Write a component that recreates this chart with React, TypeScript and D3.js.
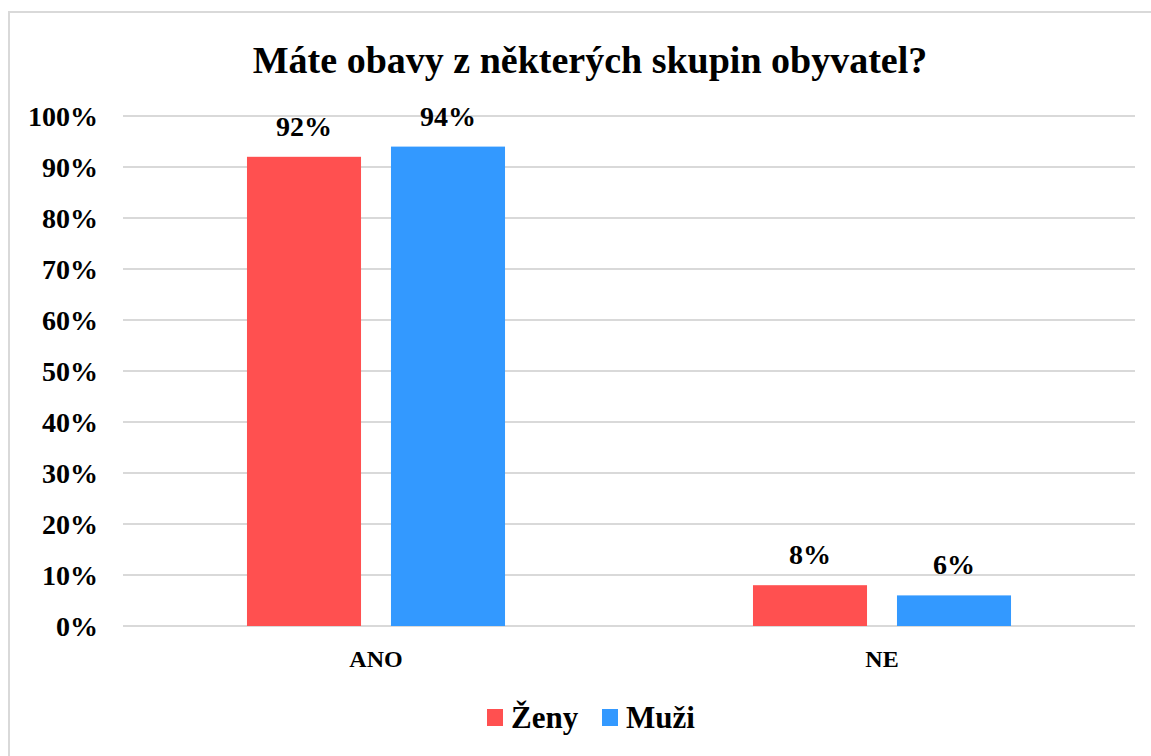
import React from "react";
import * as d3 from "d3";

const title = "Máte obavy z některých skupin obyvatel?";
const categories = ["ANO", "NE"];
const seriesNames = ["Ženy", "Muži"];
const zeny = [0.92, 0.08];
const muzi = [0.94, 0.06];
const yTicks = [0, 0.1, 0.2, 0.3, 0.4, 0.5, 0.6, 0.7, 0.8, 0.9, 1.0];
const colors = ["#FF5050", "#3399FF"];

const W = 1151;
const H = 756;
const font = "'Liberation Serif', 'Times New Roman', serif";

export default function App() {
  const values = [zeny, muzi];
  const x0 = d3.scaleBand().domain(categories).range([123, 1135]);
  const x1 = d3
    .scaleBand()
    .domain(seriesNames)
    .range([0, x0.bandwidth()])
    .paddingInner(0.208)
    .paddingOuter(0.861);
  const y = d3.scaleLinear().domain([0, 1]).range([626, 116]);
  const pct = d3.format(".0%");

  return (
    <svg
      width={W}
      height={H}
      style={{ position: "fixed", left: 0, top: 0, background: "#fff" }}
      fontFamily={font}
      fontWeight="bold"
    >
      <rect x={9} y={12} width={1300} height={900} fill="#fff" stroke="#d9d9d9" strokeWidth={2} />
      <text x={590} y={73} textAnchor="middle" fontSize={38}>
        {title}
      </text>

      {yTicks.map((t) => (
        <g key={t}>
          <line x1={123} x2={1135} y1={y(t)} y2={y(t)} stroke="#d9d9d9" strokeWidth={2} />
          <text x={98} y={y(t)} dy="0.35em" textAnchor="end" fontSize={28}>
            {pct(t)}
          </text>
        </g>
      ))}

      {categories.map((c, ci) => (
        <g key={c} transform={`translate(${x0(c)},0)`}>
          {seriesNames.map((s, si) => {
            const v = values[si][ci];
            const bx = x1(s)!;
            return (
              <g key={s}>
                <rect
                  x={bx}
                  y={y(v)}
                  width={x1.bandwidth()}
                  height={y(0) - y(v)}
                  fill={colors[si]}
                />
                <text
                  x={bx + x1.bandwidth() / 2}
                  y={y(v) - 21}
                  textAnchor="middle"
                  fontSize={28}
                >
                  {pct(v)}
                </text>
              </g>
            );
          })}
          <text x={x0.bandwidth() / 2} y={667} textAnchor="middle" fontSize={24}>
            {c}
          </text>
        </g>
      ))}

      {seriesNames.map((s, i) => {
        const lx = [487, 602][i];
        return (
          <g key={s}>
            <rect x={lx} y={709} width={16} height={17} fill={colors[i]} />
            <text x={lx + 24} y={728} fontSize={31}>
              {s}
            </text>
          </g>
        );
      })}
    </svg>
  );
}
